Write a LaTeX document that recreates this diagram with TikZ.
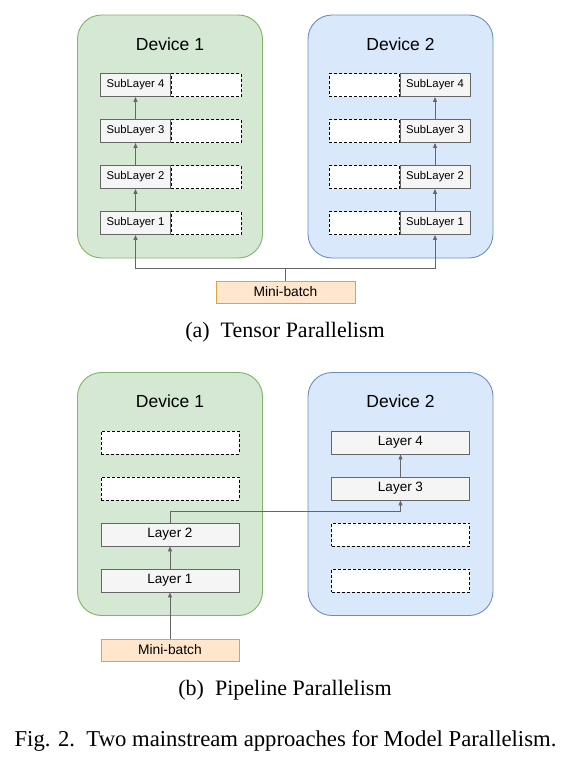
\documentclass[tikz,border=0pt]{standalone}
\usepackage{fontspec}
\setmainfont{Liberation Serif}
\setsansfont{Liberation Sans}
\usetikzlibrary{arrows.meta,positioning}

\definecolor{devgreen}{HTML}{D5E8D4}
\definecolor{devgreenline}{HTML}{82B366}
\definecolor{devblue}{HTML}{DAE8FC}
\definecolor{devblueline}{HTML}{6C8EBF}
\definecolor{batchfill}{HTML}{FFE6CC}
\definecolor{batchline}{HTML}{D9A441}
\definecolor{layerfill}{HTML}{F5F5F5}
\definecolor{layerline}{HTML}{666666}

\begin{document}
\begin{tikzpicture}[
  x=1pt, y=-1pt,
  devbox/.style={draw, rounded corners=24pt, minimum width=185pt, minimum height=243pt,
                 line width=0.9pt},
  dev1/.style={devbox, fill=devgreen, draw=devgreenline},
  dev2/.style={devbox, fill=devblue, draw=devblueline},
  devtitle/.style={font=\sffamily\fontsize{17.5}{19}\selectfont},
  layer/.style={draw=layerline, fill=layerfill, line width=0.9pt, inner sep=0pt,
                minimum height=23pt, font=\sffamily\fontsize{13.5}{15}\selectfont},
  sublayer/.style={layer, minimum width=70pt, font=\sffamily\fontsize{11.3}{12}\selectfont},
  fulllayer/.style={layer, minimum width=138pt},
  emptybox/.style={draw=black, fill=white, dash pattern=on 3pt off 2pt, line width=1pt,
                   inner sep=0pt, minimum height=23pt, minimum width=138pt},
  halfempty/.style={emptybox, minimum width=70pt},
  batch/.style={draw=batchline, fill=batchfill, line width=0.9pt, inner sep=0pt,
                minimum height=22pt, minimum width=139pt,
                font=\sffamily\fontsize{13.8}{15}\selectfont},
  arr/.style={-{Triangle[length=5pt,width=4pt]}, line width=0.9pt, draw=black!60},
  caption/.style={font=\fontsize{22}{24}\selectfont}
]
\useasboundingbox (0,0) rectangle (572,763);

% (a) tensor parallelism
\node[dev1] (devA1) at (170,136.5) {};
\node[dev2] (devA2) at (400.5,136.5) {};
\node[devtitle] (titleA1) at (170,44) {Device 1};
\node[devtitle] (titleA2) at (400.5,44) {Device 2};

\foreach \i/\y in {1/223,2/177,3/131,4/85} {
  \node[sublayer] (s1\i) at (135.5,\y) {SubLayer \i};
  \node[halfempty, right=0pt of s1\i] (e1\i) {};
  \node[sublayer] (s2\i) at (435,\y) {SubLayer \i};
  \node[halfempty, left=0pt of s2\i] (e2\i) {};
}
\foreach \i/\j in {1/2,2/3,3/4} {
  \draw[arr] (s1\i) -- (s1\j);
  \draw[arr] (s2\i) -- (s2\j);
}

\node[batch] (mbA) at (285.5,292) {Mini-batch};
\draw[arr] (mbA.north) -- ++(0,-12) -| (s11.south);
\draw[arr] (mbA.north) -- ++(0,-12) -| (s21.south);

\node[caption] (capA) at (285,332) {(a)\enspace Tensor Parallelism};

% (b) pipeline parallelism
\node[dev1] (devB1) at (170,494) {};
\node[dev2] (devB2) at (400.5,494) {};
\node[devtitle] (titleB1) at (170,401) {Device 1};
\node[devtitle] (titleB2) at (400.5,401) {Device 2};

\node[emptybox] (eB14) at (170,442.5) {};
\node[emptybox] (eB13) at (170,488.5) {};
\node[fulllayer] (lay2) at (170,534.5) {Layer 2};
\node[fulllayer] (lay1) at (170,580.5) {Layer 1};

\node[fulllayer] (lay4) at (400.5,442.5) {Layer 4};
\node[fulllayer] (lay3) at (400.5,488.5) {Layer 3};
\node[emptybox] (eB22) at (400.5,534.5) {};
\node[emptybox] (eB21) at (400.5,580.5) {};

\node[batch, minimum width=138pt] (mbB) at (170,650) {Mini-batch};
\draw[arr] (mbB) -- (lay1);
\draw[arr] (lay1) -- (lay2);
\draw[arr] (lay2.north) -- ++(0,-11) -| (lay3.south);
\draw[arr] (lay3) -- (lay4);

\node[caption] (capB) at (285,690) {(b)\enspace Pipeline Parallelism};

\node[caption, font=\fontsize{22.7}{24}\selectfont] (fig) at (285.5,741)
  {Fig. 2.\enspace Two mainstream approaches for Model Parallelism.};
\end{tikzpicture}
\end{document}
